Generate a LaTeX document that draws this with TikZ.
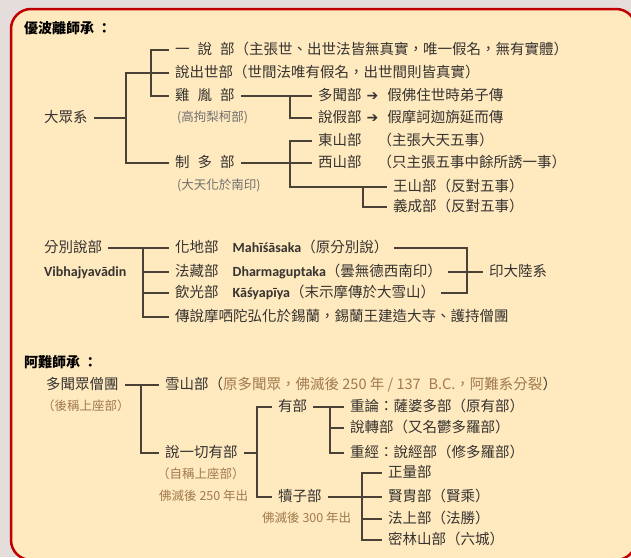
\documentclass[tikz,border=0pt]{standalone}
\usepackage{fontspec}
\setmainfont{Noto Sans CJK TC}
\newfontfamily\latfont{Carlito}
\newfontfamily\symfont{DejaVu Sans}
\usetikzlibrary{positioning}
\definecolor{frame}{HTML}{C00000}
\definecolor{paper}{HTML}{FFE9BF}
\definecolor{haze}{HTML}{E5DDDB}
\definecolor{ink}{HTML}{363330}
\definecolor{wire}{HTML}{4A4236}
\definecolor{note}{HTML}{A27A4E}
\definecolor{dim}{HTML}{6F6F6F}
\newcommand\lat[1]{{\latfont\bfseries\fontsize{14}{16}\selectfont #1}}
\newcommand\gap{\hspace{8pt}}
\newcommand\arr{\hspace{5pt}{\symfont\fontsize{14}{16}\selectfont ➔}\hspace{9pt}}

\begin{document}
\begin{tikzpicture}[x=1pt,y=-1pt,font=\fontsize{14.5}{17}\selectfont,
  lab/.style={anchor=west,inner xsep=6pt,inner ysep=0pt,text=ink,text height=11.5pt,text depth=3pt},
  gry/.style={lab,text=dim,font=\fontsize{12.5}{14}\selectfont,text height=10pt,text depth=2.5pt},
  brn/.style={gry,text=note},
  ttl/.style={anchor=west,inner sep=0pt,text=black,font=\fontsize{14}{16}\selectfont\bfseries},
  ln/.style={draw=wire,line width=1.1pt}]
  \useasboundingbox (0,0) rectangle (631,557);
  \fill[haze] (0,0) rectangle (631,557);
  \draw[frame,line width=2.5pt,fill=paper,rounded corners=20pt] (11,9) rectangle (636,560);
  % bracket columns
  \coordinate (k0) at (126,0);\coordinate (k1) at (151,0);\coordinate (k2) at (290,0);
  \coordinate (k3) at (363,0);\coordinate (k4) at (143,0);\coordinate (k5) at (467,0);
  \coordinate (k6) at (141,0);\coordinate (k7) at (257,0);\coordinate (k8) at (330,0);
  \coordinate (k9) at (362,0);
  % 優波離師承
  \node[ttl] (t1) at (24,28) {優波離師承 ：};
  \node[lab] (a1) at (169,50) {一\gap 說\gap 部（主張世、出世法皆無真實，唯一假名，無有實體）};
  \node[lab] (a2) at (169,73) {說出世部（世間法唯有假名，出世間則皆真實）};
  \node[lab] (a3) at (169,96) {雞\gap 胤\gap 部};
  \node[gry] (a3n) at (171,118) {(高拘梨柯部)};
  \node[lab] (dz) at (38,118) {大眾系};
  \node[lab] (a4) at (169,163) {制\gap 多\gap 部};
  \node[gry] (a4n) at (171,186) {(大天化於南印)};
  \node[lab] (b1) at (312,96) {多聞部\arr 假佛住世時弟子傳};
  \node[lab] (b2) at (312,118) {說假部\arr 假摩訶迦旃延而傳};
  \node[lab] (c1) at (312,141) {東山部\hspace{16pt}（主張大天五事）};
  \node[lab] (c2) at (312,163) {西山部\hspace{16pt}（只主張五事中餘所誘一事）};
  \node[lab] (c3) at (387,187) {王山部（反對五事）};
  \node[lab] (c4) at (387,207) {義成部（反對五事）};
  \draw[ln] (a1.west) -- (a1.west-|k1) |- (a3.west);
  \draw[ln] (a2.west) -- (a2.west-|k0) |- (a4.west);
  \draw[ln] (dz.east) -- (dz.east-|k0);
  \draw[ln] (a3.east) -- (b1.west);
  \draw[ln] (b1.west-|k2) |- (b2.west);
  \draw[ln] (a4.east) -- (c2.west);
  \draw[ln] (c1.west) -- (c1.west-|k2) |- (c3.west);
  \draw[ln] (c3.west-|k3) |- (c4.west);
  % 分別說部
  \node[lab] (fb) at (38,248) {分別說部};
  \node[lab] (fv) at (38,272) {\lat{Vibhajyavādin}};
  \node[lab] (d1) at (169,248) {化地部\hspace{14pt}\lat{Mahīśāsaka}（原分別說）};
  \node[lab] (d2) at (169,272) {法藏部\hspace{14pt}\lat{Dharmaguptaka}（曇無德西南印）};
  \node[lab] (d3) at (169,293) {飲光部\hspace{14pt}\lat{Kāśyapīya}（末示摩傳於大雪山）};
  \node[lab] (d4) at (169,317) {傳說摩哂陀弘化於錫蘭，錫蘭王建造大寺、護持僧團};
  \node[lab] (yd) at (483,272) {印大陸系};
  \draw[ln] (fb.east) -- (d1.west);
  \draw[ln] (d1.west-|k4) |- (d4.west);
  \draw[ln] (d2.west-|k4) -- (d2.west);
  \draw[ln] (d3.west-|k4) -- (d3.west);
  \draw[ln] (d1.east) -- (d1.east-|k5) |- (d3.east);
  \draw[ln] (d2.east) -- (yd.west);
  % 阿難師承
  \node[ttl] (t2) at (24,362) {阿難師承 ：};
  \node[lab] (dw) at (40,385) {多聞眾僧團};
  \node[brn] (dwn) at (36,407) {（後稱上座部）};
  \node[lab] (xs) at (159,385) {雪山部（{\color{note}原多聞眾，佛滅後 250 年 / 137\hspace{8pt}B.C.，阿難系分裂}）};
  \node[lab] (sq) at (159,453) {說一切有部};
  \node[brn] (sqn) at (151,475) {（自稱上座部）};
  \node[brn] (sqd) at (153,497) {佛滅後 250 年出};
  \node[lab] (yb) at (272,407) {有部};
  \node[lab] (e1) at (344,407) {重論：薩婆多部（原有部）};
  \node[lab] (e2) at (344,428) {說轉部（又名鬱多羅部）};
  \node[lab] (e3) at (344,453) {重經：說經部（修多羅部）};
  \node[lab] (dzb) at (272,497) {犢子部};
  \node[brn] (dzn) at (256,519) {佛滅後 300 年出};
  \node[lab] (f1) at (382,473) {正量部};
  \node[lab] (f2) at (382,497) {賢胄部（賢乘）};
  \node[lab] (f3) at (382,519) {法上部（法勝）};
  \node[lab] (f4) at (382,540) {密林山部（六城）};
  \draw[ln] (dw.east) -- (xs.west);
  \draw[ln] (xs.west-|k6) |- (sq.west);
  \draw[ln] (sq.east) -- (sq.east-|k7);
  \draw[ln] (yb.west) -- (yb.west-|k7) |- (dzb.west);
  \draw[ln] (yb.east) -- (e1.west);
  \draw[ln] (e1.west-|k8) |- (e3.west);
  \draw[ln] (e2.west-|k8) -- (e2.west);
  \draw[ln] (dzb.east) -- (f2.west);
  \draw[ln] (f1.west) -- (f1.west-|k9) |- (f4.west);
  \draw[ln] (f3.west-|k9) -- (f3.west);
\end{tikzpicture}
\end{document}
